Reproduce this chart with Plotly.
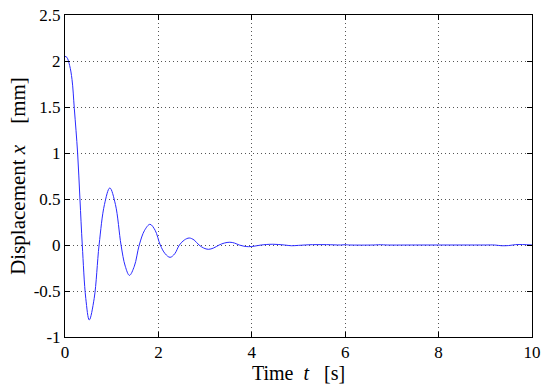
import plotly.graph_objects as go

# Time samples [s] and displacement [mm]
t = [0.0, 0.04, 0.1, 0.15, 0.2, 0.27, 0.32, 0.37, 0.445, 0.52, 0.625, 0.73, 0.845, 0.96,
     1.08, 1.2, 1.29, 1.38, 1.485, 1.59, 1.705, 1.82, 1.93, 2.04, 2.145, 2.25, 2.35, 2.45,
     2.555, 2.66, 2.765, 2.87, 2.97, 3.07, 3.18, 3.3, 3.41, 3.53, 3.63, 3.73, 3.83, 3.93,
     4.05, 4.2, 4.45, 4.7, 4.85, 5.0, 5.3, 5.6, 5.9, 6.0, 6.1, 6.6, 6.75, 6.9, 7.5, 8.0,
     8.5, 9.0, 9.2, 9.35, 9.5, 9.65, 9.8, 10.0]
x = [2.05, 2.04, 1.95, 1.8, 1.48, 1.0, 0.5, 0.0, -0.58, -0.815, -0.58, 0.0, 0.44, 0.62,
     0.44, 0.0, -0.23, -0.33, -0.23, 0.0, 0.16, 0.225, 0.16, 0.0, -0.095, -0.134, -0.095, 0.0,
     0.054, 0.076, 0.054, 0.0, -0.033, -0.047, -0.033, 0.0, 0.021, 0.03, 0.021, 0.0, -0.013, -0.018,
     -0.013, 0.0, 0.008, 0.0, -0.008, -0.004, 0.004, 0.004, 0.0, 0.003, 0.0, 0.0, 0.003, 0.0, 0.0, 0.0,
     0.0, 0.0, 0.0, -0.008, -0.006, 0.004, 0.005, 0.0]

x_ticks = [0, 2, 4, 6, 8, 10]
y_ticks = [-1, -0.5, 0, 0.5, 1, 1.5, 2, 2.5]
y_tick_labels = ["-1", "-0.5", "0", "0.5", "1", "1.5", "2", "2.5"]

SERIF = "Liberation Serif"

fig = go.Figure()
fig.add_trace(go.Scatter(x=t, y=x, mode="lines",
                         line=dict(color="#2a2aff", width=1, shape="spline", smoothing=1),
                         showlegend=False))

axis_common = dict(showline=True, linecolor="black", linewidth=1, mirror="ticks",
                   ticks="inside", ticklen=5, tickcolor="black", automargin=False,
                   showgrid=True, gridcolor="#555555", griddash="1px,3px", gridwidth=1,
                   zeroline=False, tickfont=dict(size=17, family=SERIF, color="black"))

fig.update_xaxes(range=[0, 10], tickvals=x_ticks, ticktext=[str(v) for v in x_ticks],
                 title=dict(text="Time&nbsp;&nbsp;<i>t</i>&nbsp;&nbsp;&nbsp;[s]",
                            font=dict(size=20, family=SERIF, color="black"), standoff=3),
                 **axis_common)
fig.update_yaxes(range=[-1, 2.5], tickvals=y_ticks, ticktext=y_tick_labels,
                 title=dict(text="Displacement <i>x</i>&nbsp;&nbsp;&nbsp;&nbsp;[mm]",
                            font=dict(size=21, family=SERIF, color="black"), standoff=2),
                 **axis_common)

fig.update_layout(width=550, height=388, margin=dict(l=65, r=18, t=15, b=51),
                  plot_bgcolor="white", paper_bgcolor="white",
                  font=dict(family=SERIF, color="black"))

fig.write_html("out.html", config={"displayModeBar": False},
               post_script="document.body.style.margin='0';document.body.style.overflow='hidden';")
